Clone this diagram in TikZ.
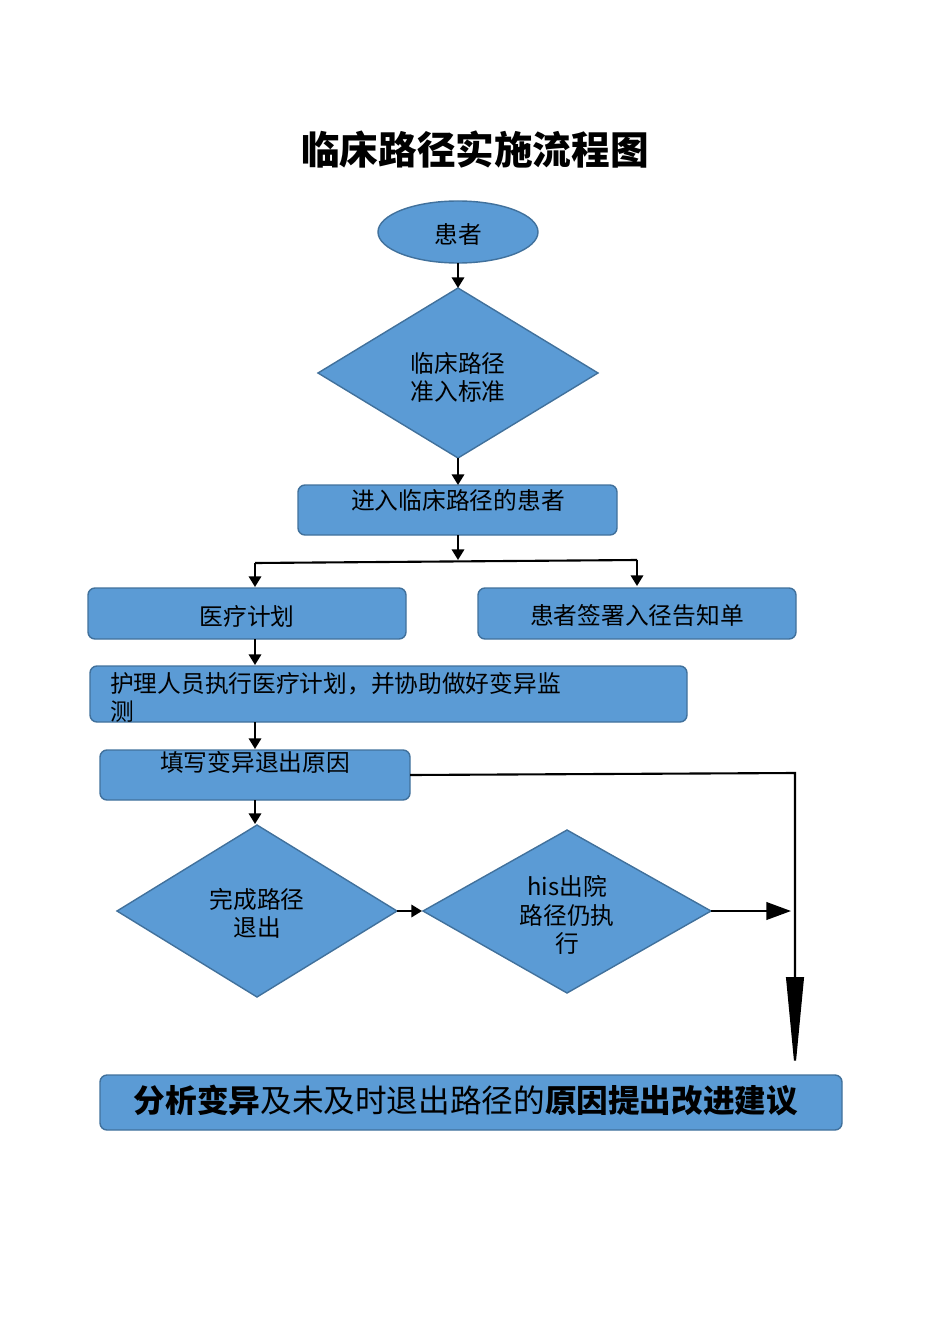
\documentclass[tikz,border=0pt]{standalone}
\usepackage{fontspec}
\newfontfamily\cjk{Noto Sans CJK SC}
\usetikzlibrary{shapes.geometric,arrows.meta}
\definecolor{fillb}{HTML}{5B9BD5}
\definecolor{edgeb}{HTML}{41719C}
\begin{document}
\begin{tikzpicture}[x=0.02cm,y=-0.02cm,
 box/.style={draw=edgeb,fill=fillb,rounded corners=4pt,line width=0.8pt},
 dia/.style={draw=edgeb,fill=fillb,line width=0.8pt},
 txt/.style={font=\cjk\fontsize{13.5}{16}\selectfont,text=black,align=center},
 con/.style={line width=1.2pt,-{Triangle[width=7pt,length=6pt]}},
 ln/.style={line width=1.2pt}]
\useasboundingbox (0,0) rectangle (950,1344);
\node[font=\cjk\bfseries\fontsize{22}{26}\selectfont] (title) at (475,150) {临床路径实施流程图};
% shapes
\draw[dia] (458,232) ellipse (80 and 31);
\node[txt] (p) at (458,234) {患者};
\coordinate (pb) at (458,263);
\draw[dia] (458,288) -- (598,373) -- (458,458) -- (318,373) -- cycle;
\node[txt] (d1) at (458,377) {临床路径\\准入标准};
\coordinate (d1t) at (458,288); \coordinate (d1b) at (458,458);
\draw[box] (298,485) rectangle (617,535);
\node[txt] (b1) at (458,500) {进入临床路径的患者};
\coordinate (b1t) at (458,485); \coordinate (b1b) at (458,535);
\draw[box] (88,588) rectangle (406,639);
\node[txt] (b2) at (247,616) {医疗计划};
\draw[box] (478,588) rectangle (796,639);
\node[txt] (b3) at (637,616) {患者签署入径告知单};
\draw[box] (90,666) rectangle (687,722);
\node[txt,align=left,anchor=north west] (b4) at (104,666) {护理人员执行医疗计划，并协助做好变异监\\测};
\draw[box] (100,750) rectangle (410,800);
\node[txt] (b5) at (255,762) {填写变异退出原因};
\draw[dia] (257,825) -- (397,911) -- (257,997) -- (117,911) -- cycle;
\node[txt] (d2) at (257,913) {完成路径\\退出};
\draw[dia] (567,830) -- (711,911) -- (567,993) -- (423,911) -- cycle;
\node[txt] (d3) at (567,915) {his出院\\路径仍执\\行};
\draw[box] (100,1075) rectangle (842,1130);
\node[font=\cjk\fontsize{18}{22}\selectfont] (b6) at (466,1101) {\textbf{分析变异}及未及时退出路径的\textbf{原因提出改进建议}};
% connectors
\draw[con] (pb) -- (d1t);
\draw[con] (d1b) -- (b1t);
\coordinate (s) at (458,560);
\coordinate (l) at (255,563); \coordinate (r) at (637,560);
\draw[con] (b1b) -- (s);
\draw[ln] (l) -- (r);
\draw[con] (l) -- (255,587);
\draw[con] (r) -- (637,586);
\draw[con] (255,639) -- (255,665);
\draw[con] (255,722) -- (255,749);
\draw[con] (255,800) -- (255,824);
\draw[con] (397,911) -- (422,911);
\draw[line width=1.2pt,-{Triangle[width=10pt,length=14pt]}] (711,911) -- (791,911);
\draw[line width=1.2pt,-{Triangle[width=10pt,length=54pt]}] (410,775) -- (795,773) -- (795,1072);
\end{tikzpicture}
\end{document}
